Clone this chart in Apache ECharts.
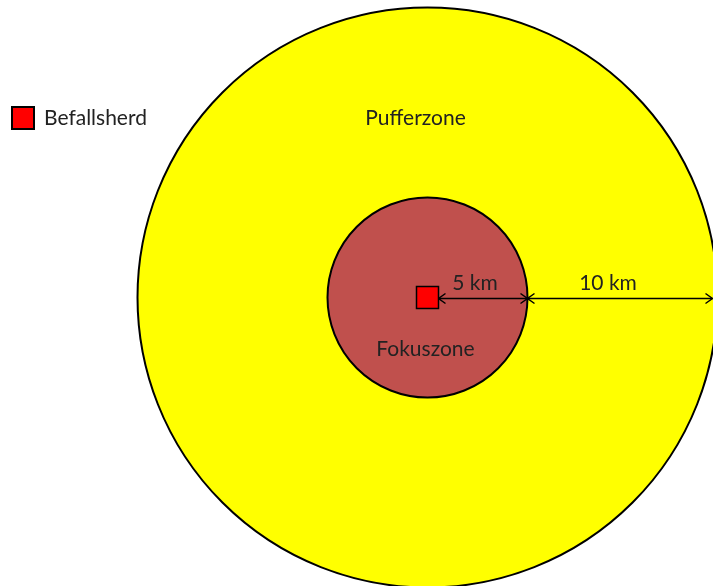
<!DOCTYPE html>
<html>
<head>
<meta charset="utf-8">
<script src="https://cdn.jsdelivr.net/npm/echarts@6/dist/echarts.min.js"></script>
<style>
  html, body { margin: 0; padding: 0; background: #fff; }
  #chart { width: 713px; height: 586px; }
</style>
</head>
<body>
<div id="chart"></div>
<script>
// zones, drawn as circles round the outbreak (radius in diagram units, km-ish)
const zoneNames = ['Pufferzone', 'Fokuszone'];
const zoneRadius = [14.5, 5];
const zoneColors = ['#ffff00', '#c0504d'];

// outbreak point
const herdName = 'Befallsherd';
const herdPoint = [[0, 0]];

// distance arrows: start, end, label
const arrowStart = [0.55, 5];
const arrowEnd = [5, 14.25];
const arrowLabels = ['5 km', '10 km'];

const FONT = 'Lato, "Open Sans", sans-serif';
const FS = 21;

const chart = echarts.init(document.getElementById('chart'));

const circleData = zoneNames.map((n, i) => ({ name: n, value: [0, 0, zoneRadius[i]] }));
const arrowData = arrowLabels.map((l, i) => ({ name: l, value: [arrowStart[i], arrowEnd[i]] }));
const labelShift = [-8, -12];

const option = {
  animation: false,
  grid: { left: 0, right: 0, top: 0, bottom: 0 },
  xAxis: { type: 'value', min: -21.375, max: 14.275, show: false },
  yAxis: { type: 'value', min: -14.425, max: 14.875, show: false },
  legend: {
    data: [herdName],
    left: 11,
    top: 106,
    padding: 0,
    itemWidth: 22,
    itemHeight: 22,
    textStyle: { fontFamily: FONT, fontSize: FS, color: '#222', padding: [0, 0, 0, 5] }
  },
  series: [
    {
      type: 'custom',
      name: 'zones',
      silent: true,
      data: circleData,
      renderItem: function (params, api) {
        const c = api.coord([api.value(0), api.value(1)]);
        const r = api.size([api.value(2), 0])[0];
        return {
          type: 'circle',
          shape: { cx: c[0], cy: c[1], r: r },
          style: { fill: zoneColors[params.dataIndex], stroke: '#000', lineWidth: 2 }
        };
      }
    },
    {
      type: 'custom',
      name: 'zoneLabels',
      silent: true,
      data: [[-0.6, 8.95, 0], [-0.1, -2.6, 1]],
      renderItem: function (params, api) {
        const c = api.coord([api.value(0), api.value(1)]);
        return {
          type: 'text',
          x: c[0], y: c[1],
          style: {
            text: zoneNames[api.value(2)],
            fontFamily: FONT, fontSize: FS, fill: '#222',
            align: 'center', verticalAlign: 'middle'
          }
        };
      }
    },
    {
      type: 'custom',
      name: 'arrows',
      silent: true,
      data: arrowData,
      renderItem: function (params, api) {
        const a = api.coord([api.value(0), 0]);
        const b = api.coord([api.value(1), 0]);
        const y = a[1] + 1;
        const h = 5;
        const st = { stroke: '#000', lineWidth: 1.5, fill: null };
        return {
          type: 'group',
          children: [
            { type: 'line', shape: { x1: a[0], y1: y, x2: b[0], y2: y }, style: st },
            { type: 'polyline', shape: { points: [[a[0] + h * 1.4, y - h], [a[0], y], [a[0] + h * 1.4, y + h]] }, style: st },
            { type: 'polyline', shape: { points: [[b[0] - h * 1.4, y - h], [b[0], y], [b[0] - h * 1.4, y + h]] }, style: st },
            {
              type: 'text',
              x: (a[0] + b[0]) / 2 + labelShift[params.dataIndex],
              y: y - 15,
              style: {
                text: arrowLabels[params.dataIndex],
                fontFamily: FONT, fontSize: FS, fill: '#222',
                align: 'center', verticalAlign: 'middle'
              }
            }
          ]
        };
      }
    },
    {
      type: 'scatter',
      name: herdName,
      symbol: 'rect',
      symbolSize: 22,
      data: herdPoint,
      itemStyle: { color: '#ff0000', borderColor: '#000', borderWidth: 1.5, opacity: 1 },
      z: 5
    }
  ]
};

chart.setOption(option);
</script>
</body>
</html>
